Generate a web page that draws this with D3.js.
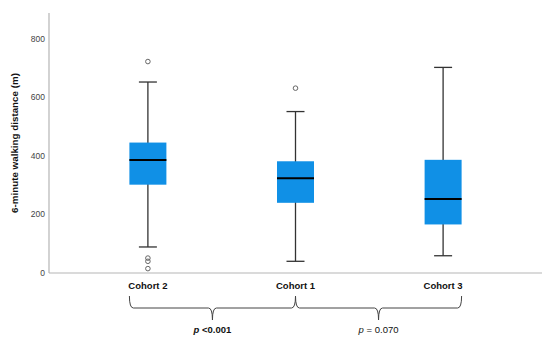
<!DOCTYPE html>
<html>
<head>
<meta charset="utf-8">
<script src="https://cdn.jsdelivr.net/npm/d3@7"></script>
<style>
  body { margin: 0; background: #fff; }
  svg { display: block; font-family: "Liberation Sans", Arial, sans-serif; }
</style>
</head>
<body>
<div id="chart"></div>
<script>
// Data
const cohorts = ["Cohort 2", "Cohort 1", "Cohort 3"];
const whiskerLow = [89, 40, 59];
const q1 = [302, 240, 166];
const median = [386, 324, 253];
const q3 = [446, 382, 387];
const whiskerHigh = [653, 552, 703];
const outliers = [[723, 51, 40, 15], [632], []];
const yTicks = [0, 200, 400, 600, 800];
const comparisons = [
  { from: "Cohort 2", to: "Cohort 1", label: " <0.001", bold: true },
  { from: "Cohort 1", to: "Cohort 3", label: " = 0.070", bold: false }
];

const boxes = cohorts.map((c, i) => ({
  name: c, lo: whiskerLow[i], q1: q1[i], med: median[i], q3: q3[i], hi: whiskerHigh[i], out: outliers[i]
}));

const margin = { top: 13, right: 8, bottom: 68, left: 49 };
const width = 550 - margin.left - margin.right;
const height = 341 - margin.top - margin.bottom;

const svg = d3.select("#chart")
  .append("svg")
  .attr("width", 550)
  .attr("height", 341)
  .append("g")
  .attr("transform", `translate(${margin.left},${margin.top})`);

const x = d3.scalePoint()
  .domain(cohorts)
  .range([0, width])
  .padding(0.67);

const y = d3.scaleLinear()
  .domain([0, 889])
  .range([height, 0]);

const boxW = 37, capW = 18;

// Axes lines
svg.append("line")
  .attr("x1", 0).attr("x2", 0).attr("y1", 0).attr("y2", height)
  .attr("stroke", "#b5b5b5").attr("stroke-width", 1.2);
svg.append("line")
  .attr("x1", 0).attr("x2", width).attr("y1", height).attr("y2", height)
  .attr("stroke", "#b5b5b5").attr("stroke-width", 1.2);

// Y tick labels
svg.selectAll(".ytick")
  .data(yTicks)
  .enter()
  .append("text")
  .attr("class", "ytick")
  .attr("x", -4)
  .attr("y", d => y(d))
  .attr("dy", "0.35em")
  .attr("text-anchor", "end")
  .style("font-size", "8.5px")
  .style("fill", "#444")
  .text(d => d);

// Y label
svg.append("text")
  .attr("transform", `translate(-31,${height / 2}) rotate(-90)`)
  .attr("text-anchor", "middle")
  .style("font-size", "9.8px")
  .style("font-weight", "bold")
  .style("fill", "#111")
  .text("6-minute walking distance (m)");

// Boxes
const g = svg.selectAll(".box")
  .data(boxes)
  .enter()
  .append("g")
  .attr("class", "box")
  .attr("transform", d => `translate(${x(d.name)},0)`);

g.append("line")
  .attr("y1", d => y(d.lo)).attr("y2", d => y(d.hi))
  .attr("stroke", "#333").attr("stroke-width", 1.3);
g.append("line")
  .attr("x1", -capW / 2).attr("x2", capW / 2)
  .attr("y1", d => y(d.hi)).attr("y2", d => y(d.hi))
  .attr("stroke", "#333").attr("stroke-width", 1.3);
g.append("line")
  .attr("x1", -capW / 2).attr("x2", capW / 2)
  .attr("y1", d => y(d.lo)).attr("y2", d => y(d.lo))
  .attr("stroke", "#333").attr("stroke-width", 1.3);
g.append("rect")
  .attr("x", -boxW / 2)
  .attr("width", boxW)
  .attr("y", d => y(d.q3))
  .attr("height", d => y(d.q1) - y(d.q3))
  .style("fill", "#1090e6");
g.append("line")
  .attr("x1", -boxW / 2).attr("x2", boxW / 2)
  .attr("y1", d => y(d.med)).attr("y2", d => y(d.med))
  .attr("stroke", "#000").attr("stroke-width", 2);
g.selectAll(".out")
  .data(d => d.out)
  .enter()
  .append("circle")
  .attr("class", "out")
  .attr("cy", d => y(d))
  .attr("r", 2.3)
  .style("fill", "none")
  .style("stroke", "#666")
  .style("stroke-width", 1);

// Category labels
svg.selectAll(".xlab")
  .data(cohorts)
  .enter()
  .append("text")
  .attr("class", "xlab")
  .attr("x", d => x(d))
  .attr("y", height + 16)
  .attr("text-anchor", "middle")
  .style("font-size", "9.5px")
  .style("font-weight", "bold")
  .style("fill", "#111")
  .text(d => d);

// Braces under the axis
function brace(x0, x1, top, mid, tip) {
  const xm = (x0 + x1) / 2, r = 4;
  return `M${x0},${top} Q${x0},${mid} ${x0 + r},${mid} L${xm - r},${mid} Q${xm},${mid} ${xm},${tip}` +
         ` Q${xm},${mid} ${xm + r},${mid} L${x1 - r},${mid} Q${x1},${mid} ${x1},${top}`;
}
const braceTop = height + 23, braceMid = height + 35, braceTip = height + 47;
comparisons.forEach((c, i) => {
  const x0 = i === 0 ? x(c.from) - boxW / 2 : x(c.from);
  const x1 = i === 0 ? x(c.to) : x(c.to) + boxW / 2;
  svg.append("path")
    .attr("d", brace(x0, x1, braceTop, braceMid, braceTip))
    .attr("fill", "none")
    .attr("stroke", "#444")
    .attr("stroke-width", 1);
  const t = svg.append("text")
    .attr("x", (x0 + x1) / 2)
    .attr("y", height + 60)
    .attr("text-anchor", "middle")
    .style("font-size", "9.5px")
    .style("font-weight", c.bold ? "bold" : "normal")
    .style("fill", "#111")
    .attr("xml:space", "preserve");
  t.append("tspan").style("font-style", "italic").text("p");
  t.append("tspan").text(c.label);
});
</script>
</body>
</html>
